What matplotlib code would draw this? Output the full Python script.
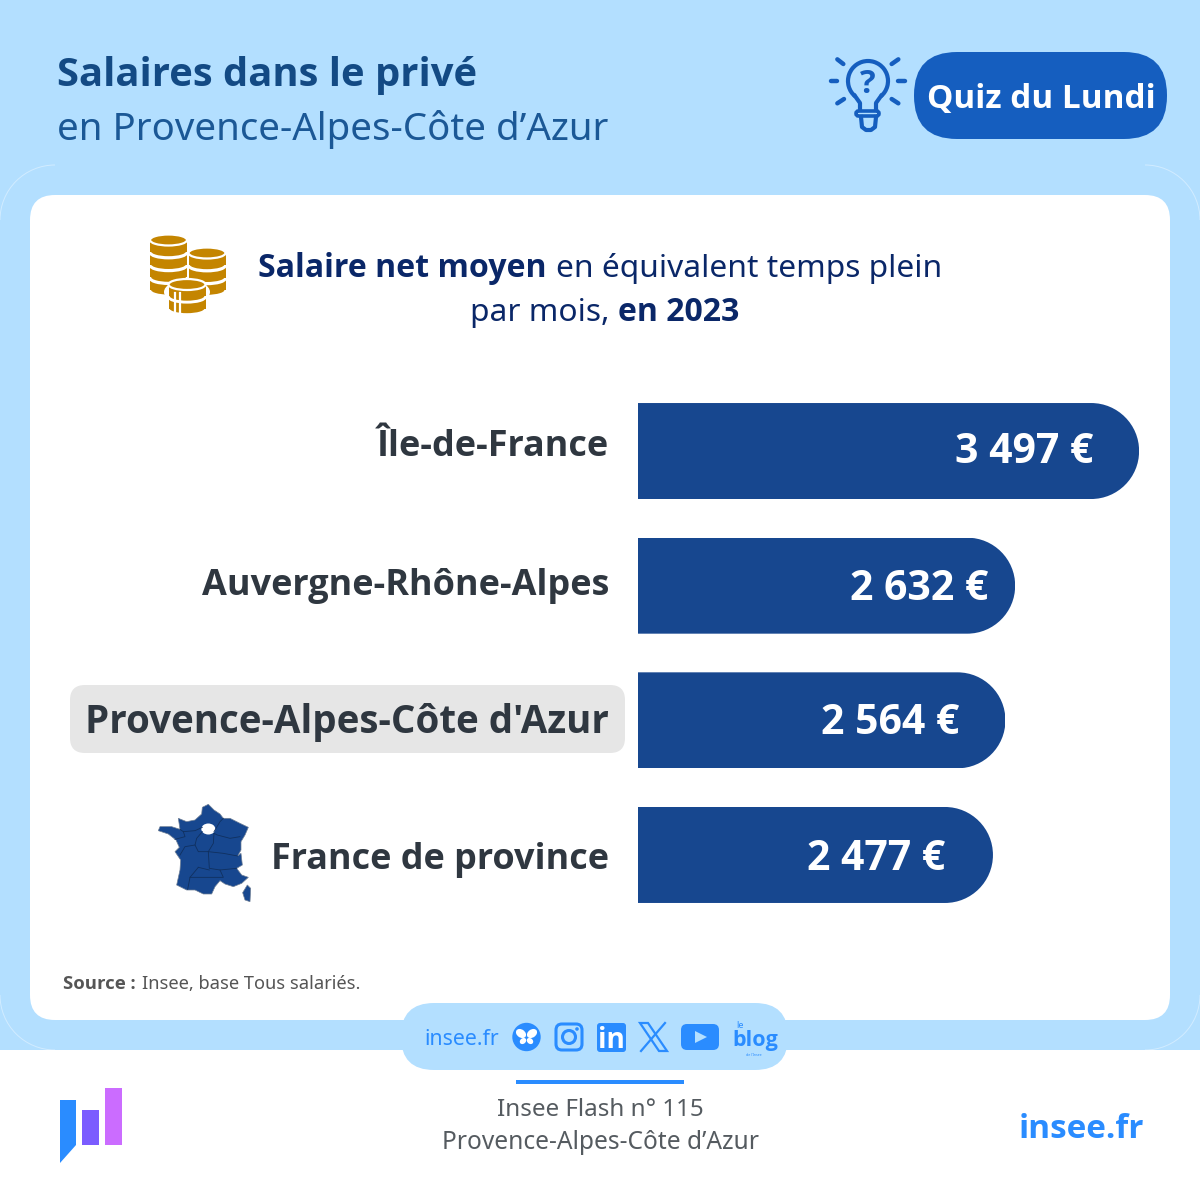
import matplotlib
matplotlib.use('Agg')
import matplotlib.pyplot as plt
from matplotlib.patches import FancyBboxPatch, Ellipse, Circle, Rectangle, Polygon, Arc
from matplotlib.path import Path

plt.rcParams['font.family'] = ['Noto Sans', 'DejaVu Sans']

# Data
regions = ['Île-de-France', 'Auvergne-Rhône-Alpes', "Provence-Alpes-Côte d'Azur", 'France de province']
salaries = [3497, 2632, 2564, 2477]
salary_labels = ['3 497 €', '2 632 €', '2 564 €', '2 477 €']

# Layout (pixels)
NAME_BASELINE = [456, 595, 733, 869]
NAME_SIZE = [36, 36, 38.5, 36]
VALUE_BASELINE = [463, 600, 734, 870]
VALUE_RIGHT = [1093, 988, 959, 945]

# Colours
SKY = '#B3DFFF'
NAVY = '#17478F'
ROYAL = '#155EBF'
BRIGHT = '#2A8CFF'
GOLD = '#C48500'
INK = '#2F3740'

fig = plt.figure(figsize=(12, 12), dpi=100)
ax = fig.add_axes([0, 0, 1, 1])
ax.set_xlim(0, 1200)
ax.set_ylim(1200, 0)
ax.axis('off')


def text(x, y, s, size, color, weight='normal', ha='left', **kw):
    # the Noto Sans file has no bold instance here, Open Sans Bold is the closest
    family = ['Open Sans', 'DejaVu Sans'] if weight == 'bold' else ['Noto Sans', 'DejaVu Sans']
    return ax.text(x, y, s, fontsize=size * 0.72, color=color, fontweight=weight, family=family,
                   ha=ha, va='baseline', zorder=5, **kw)


def rbox(x0, y0, x1, y1, r, **kw):
    p = FancyBboxPatch((x0, y0), x1 - x0, y1 - y0, boxstyle=f'round,pad=0,rounding_size={r}', **kw)
    ax.add_patch(p)
    return p


# Background
ax.add_patch(Rectangle((0, 0), 1200, 1050, fc=SKY, ec='none', zorder=0))
for cx, cy, t1 in [(55, 220, 180), (1145, 220, 270), (55, 995, 90), (1145, 995, 0)]:
    ax.add_patch(Arc((cx, cy), 110, 110, theta1=t1, theta2=t1 + 90, ec='white', lw=0.7, alpha=0.4, zorder=0.5))
rbox(30, 195, 1170, 1020, 25, fc='white', ec='none', zorder=1)

# Header
text(57, 86, 'Salaires dans le privé', 40, '#134A84', 'bold')
text(57, 140, 'en Provence-Alpes-Côte d’Azur', 38.4, '#1B5896')
rbox(914, 52, 1167, 139, 43, fc=ROYAL, ec='none', zorder=2)
text(1041, 108, 'Quiz du Lundi', 33.3, 'white', 'bold', ha='center')

# Light bulb
for x0, y0, x1, y1 in [(52, 58, 70, 72), (235, 58, 215, 72), (32, 124, 52, 124),
                       (235, 124, 255, 124), (52, 190, 72, 177), (235, 190, 215, 177)]:
    ax.plot([820 + x0 / 3, 820 + x1 / 3], [40 + y0 / 3, 40 + y1 / 3], color=ROYAL, lw=3.2,
            solid_capstyle='round', zorder=3)
ax.add_patch(Arc((868, 81), 40, 40, theta1=130, theta2=50, ec=ROYAL, lw=3, zorder=3))
ax.plot([855, 860, 860], [96, 103, 110], color=ROYAL, lw=3, zorder=3, solid_joinstyle='round')
ax.plot([881, 876, 876], [96, 103, 110], color=ROYAL, lw=3, zorder=3, solid_joinstyle='round')
rbox(856, 111, 879, 116, 2.5, fc='none', ec=ROYAL, lw=2.6, zorder=3)
ax.plot([861, 862, 866, 871, 875, 876], [117, 127, 130, 130, 127, 117], color=ROYAL, lw=3, zorder=3)
text(868, 93, '?', 33, ROYAL, 'bold', ha='center')

# Coins


def coin(cx, top, rx=18.5, ry=5.5, h=12.8):
    ax.add_patch(Ellipse((cx, top + h - 1), 2 * rx, 2 * ry, fc=GOLD, ec='white', lw=1.6, zorder=3))
    ax.add_patch(Rectangle((cx - rx, top), 2 * rx, h - 1, fc=GOLD, ec='none', zorder=3))
    ax.add_patch(Ellipse((cx, top), 2 * rx, 2 * ry, fc=GOLD, ec='white', lw=1.6, zorder=3))


def stack(cx, tops):
    for t in reversed(tops):
        coin(cx, t)


stack(168.5, [240, 252.8, 265.6, 278.4])
stack(207, [253, 265.8, 278.6])
ax.add_patch(Ellipse((187, 292), 46, 24, fc='white', ec='none', zorder=3))
stack(187, [284.5, 297])
for xl in (175, 180):
    ax.plot([xl, xl], [293, 317], color='white', lw=1.6, zorder=4)

# Subtitle
SUB = '#0A2768'
text(258, 277, 'Salaire net moyen', 32.1, SUB, 'bold')
text(556, 277, 'en équivalent temps plein', 31.7, SUB)
text(470, 321, 'par mois,', 31.7, SUB)
text(618, 321, 'en 2023', 32, SUB, 'bold')

# Highlight behind the region
rbox(70, 685, 625, 753, 15, fc='#E6E6E6', ec='none', zorder=2)
for name, base, size in zip(regions, NAME_BASELINE, NAME_SIZE):
    text(609, base, name, size, INK, 'bold', ha='right')

# Bars: one euro is 0.1433 px, categories 134.67 px apart
ax_bar = fig.add_axes([638 / 1200, 1 - 922.3 / 1200, 562 / 1200, 538.6 / 1200])
ax_bar.set_xlim(0, 562 / 0.1433)
ax_bar.set_ylim(3.5, -0.5)
ax_bar.axis('off')
bars = ax_bar.barh(range(len(regions)), salaries, height=96 / 134.67, color=NAVY, zorder=2)
rx, ry = 48 / 0.1433, 48 / 134.67
k = 0.5523
for bar in bars:
    x1 = bar.get_width()
    y0, y1 = bar.get_y(), bar.get_y() + bar.get_height()
    verts = [(0, y0), (x1 - rx, y0), (x1 - rx + k * rx, y0), (x1, y0 + ry - k * ry), (x1, y0 + ry),
             (x1, y1 - ry), (x1, y1 - ry + k * ry), (x1 - rx + k * rx, y1), (x1 - rx, y1),
             (0, y1), (0, y0)]
    codes = [Path.MOVETO, Path.LINETO, Path.CURVE4, Path.CURVE4, Path.CURVE4,
             Path.LINETO, Path.CURVE4, Path.CURVE4, Path.CURVE4, Path.LINETO, Path.CLOSEPOLY]
    bar.set_clip_path(Path(verts, codes), ax_bar.transData)

for lab, xr, base in zip(salary_labels, VALUE_RIGHT, VALUE_BASELINE):
    ax_bar.text(xr, base, lab, transform=ax.transData, fontsize=41 * 0.72, color='white',
                fontweight='bold', family=['Open Sans', 'DejaVu Sans'], ha='right', va='baseline', zorder=5)


# France map
def fr(points):
    return [(140 + x / 3, 790 + y / 3) for x, y in points]


france = [(187, 52), (205, 43), (222, 60), (240, 72), (250, 85), (270, 85), (300, 100), (325, 112),
          (315, 135), (303, 155), (303, 180), (293, 198), (303, 190), (307, 225), (290, 235), (305, 255),
          (325, 262), (305, 280), (280, 290), (255, 282), (240, 272), (225, 290), (215, 312), (190, 312),
          (165, 300), (140, 300), (110, 285), (120, 240), (122, 210), (105, 185), (118, 172), (108, 150),
          (85, 132), (55, 122), (60, 110), (95, 110), (120, 118), (115, 85), (140, 95), (165, 90), (185, 72)]
corsica = [(322, 285), (332, 295), (330, 335), (315, 330), (308, 308)]
ax.add_patch(Polygon(fr(france), fc=NAVY, ec='#6F7F95', lw=0.5, zorder=3))
ax.add_patch(Polygon(fr(corsica), fc=NAVY, ec='#6F7F95', lw=0.5, zorder=3))
ax.add_patch(Ellipse((140 + 205 / 3, 790 + 117 / 3), 14, 11, fc='white', ec='none', zorder=4))
borders = [[(120, 118), (130, 125), (165, 122), (187, 112)],
           [(105, 148), (135, 140), (130, 125)],
           [(222, 125), (240, 95), (250, 85)],
           [(222, 130), (232, 135), (270, 145), (300, 140)],
           [(187, 125), (170, 145), (165, 165), (175, 185), (205, 185)],
           [(222, 130), (220, 160), (205, 185), (208, 235), (240, 240), (290, 235)],
           [(205, 185), (250, 190), (293, 198)],
           [(165, 165), (135, 170), (120, 195)],
           [(175, 232), (150, 262), (143, 298)],
           [(175, 232), (208, 240)],
           [(150, 262), (200, 262), (250, 262), (240, 240)]]
for line in borders:
    xs, ys = zip(*fr(line))
    ax.plot(xs, ys, color='#10305F', lw=0.6, zorder=4)

# Source
text(63, 989, 'Source :', 18.5, '#555555', 'bold')
text(142, 989, 'Insee, base Tous salariés.', 18.3, '#555555')

# Social pill
rbox(401, 1003, 788, 1070, 33, fc=SKY, ec='none', zorder=2)
text(424.5, 1045, 'insee.fr', 21.3, BRIGHT)
ax.add_patch(Circle((526.5, 1037), 14.2, fc=BRIGHT, ec='none', zorder=3))
for cx, ang in [(521, 35), (532, -35)]:
    ax.add_patch(Ellipse((cx, 1033.5), 11, 8, angle=ang, fc='white', ec='none', zorder=4))
for cx, ang in [(523, -40), (530, 40)]:
    ax.add_patch(Ellipse((cx, 1041), 7, 5.5, angle=ang, fc='white', ec='none', zorder=4))

rbox(556, 1024, 582, 1050, 6, fc='none', ec=BRIGHT, lw=2.2, zorder=3)
ax.add_patch(Circle((569, 1037), 6.5, fc='none', ec=BRIGHT, lw=2.2, zorder=3))
ax.add_patch(Circle((577, 1029), 1.8, fc=BRIGHT, ec='none', zorder=3))

rbox(597, 1023, 626, 1052, 3, fc=BRIGHT, ec='none', zorder=3)
text(611.5, 1048, 'in', 28, 'white', 'bold', ha='center')

ax.add_patch(Polygon([(640, 1023), (648, 1023), (667, 1051), (659, 1051)], fc='none', ec=BRIGHT, lw=1.6, zorder=3))
ax.plot([665, 641], [1023, 1051], color=BRIGHT, lw=1.6, zorder=3)

rbox(681, 1024, 719, 1050, 6, fc=BRIGHT, ec='none', zorder=3)
ax.add_patch(Polygon([(695, 1031), (695, 1043), (707, 1037)], fc=SKY, ec='none', zorder=4))

text(732, 1046, 'blog', 21.5, BRIGHT, 'bold')
text(736, 1028, 'le', 9, BRIGHT)
text(746, 1056, 'de l\'Insee', 3.5, BRIGHT)

# Footer
ax.add_patch(Rectangle((516, 1080), 168, 4, fc=BRIGHT, ec='none', zorder=3))
text(600, 1116, 'Insee Flash n° 115', 24.2, '#555B60', ha='center')
text(600, 1149, 'Provence-Alpes-Côte d’Azur', 24.5, '#555B60', ha='center')
text(1144, 1138, 'insee.fr', 33.4, BRIGHT, 'bold', ha='right')

# Logo
ax.add_patch(Polygon([(60, 1100), (76, 1100), (76, 1145), (60, 1163)], fc=BRIGHT, ec='none', zorder=3))
ax.add_patch(Rectangle((82, 1110), 17, 35, fc='#7B5CFF', ec='none', zorder=3))
ax.add_patch(Rectangle((105, 1088), 17, 57, fc='#CB6CFF', ec='none', zorder=3))

fig.savefig('out.png', dpi=100)
